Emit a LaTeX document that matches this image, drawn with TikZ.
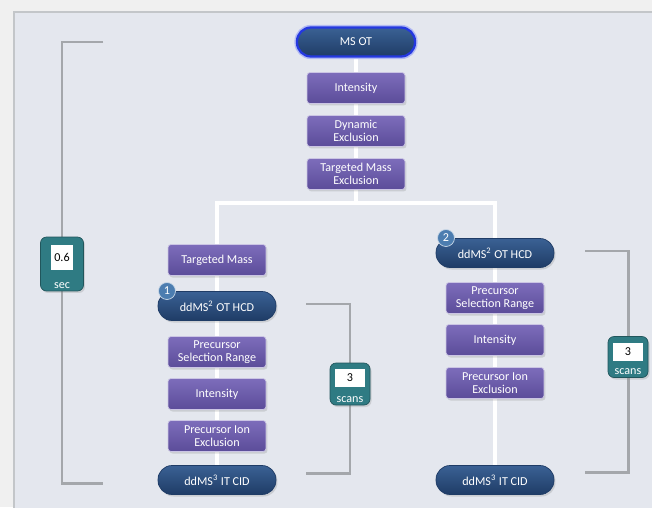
\documentclass[tikz,border=0pt]{standalone}
\usepackage{fontspec}
\setmainfont{Carlito}
\usetikzlibrary{positioning,calc,backgrounds,shadows}
\definecolor{paper}{HTML}{F0F0F0}
\definecolor{panel}{HTML}{E4E7EE}
\definecolor{frame}{HTML}{C3C6C9}
\definecolor{filtop}{HTML}{7D6DBB}
\definecolor{filbot}{HTML}{5B4C99}
\definecolor{scantop}{HTML}{3A6194}
\definecolor{scanbot}{HTML}{1F3C66}
\definecolor{glow}{HTML}{2438E0}
\definecolor{timer}{HTML}{2F7B83}
\definecolor{order}{HTML}{4C7DB0}
\definecolor{brk}{HTML}{A4A7AB}

\begin{document}
\begin{tikzpicture}[x=0.02cm,y=-0.02cm,
  txt/.style={font=\fontsize{6.9}{7.6}\selectfont,text=white,align=center,inner sep=0pt},
  filt/.style={txt,rectangle,rounded corners=0.06cm,top color=filtop,bottom color=filbot,
    draw=white!60!filtop,line width=0.4pt,minimum width=1.96cm,minimum height=0.62cm,
    drop shadow={opacity=0.25,shadow xshift=0.03cm,shadow yshift=-0.04cm}},
  scan/.style={txt,rectangle,rounded corners=0.28cm,top color=scantop,bottom color=scanbot,
    draw=scanbot,line width=0.4pt,minimum width=2.36cm,minimum height=0.58cm,
    drop shadow={opacity=0.25,shadow xshift=0.03cm,shadow yshift=-0.04cm}},
  ordnum/.style={txt,circle,fill=order,draw=white!70!order,line width=0.4pt,minimum size=0.34cm},
  timerbox/.style={rectangle,rounded corners=0.12cm,fill=timer,draw=timer!70!black,line width=0.4pt,
    drop shadow={opacity=0.25,shadow xshift=0.03cm,shadow yshift=-0.04cm}},
  readout/.style={rectangle,fill=white,font=\fontsize{6.9}{7.6}\selectfont,text=black,inner sep=0pt},
  unit/.style={font=\fontsize{6.9}{7.6}\selectfont,text=white,inner sep=0pt},
  spine/.style={white,line width=2.2pt},
  brace/.style={brk,line width=1.7pt}]
\useasboundingbox (0,0) rectangle (652,507);
% top chain
\node[scan,draw=glow,line width=1.3pt,preaction={draw=glow!35,line width=3pt}] (msot) at (356,42) {MS OT};
\node[filt] (int) at (356,88) {Intensity};
\node[filt] (dynex) at (356,131) {Dynamic\\Exclusion};
\node[filt] (tmex) at (356,174) {Targeted Mass\\Exclusion};
\coordinate (split) at (356,203);
% left branch
\node[filt] (tmL) at (217,260) {Targeted Mass};
\node[scan] (hcdL) at (217,306) {ddMS\textsuperscript{2} OT HCD};
\node[ordnum] (oneL) at (167,291) {1};
\node[filt] (pselL) at (217,352) {Precursor\\Selection Range};
\node[filt] (intL) at (217,394) {Intensity};
\node[filt] (pexL) at (217,436) {Precursor Ion\\Exclusion};
\node[scan] (cidL) at (217,480) {ddMS\textsuperscript{3} IT CID};
% right branch
\node[scan] (hcdR) at (495,253) {ddMS\textsuperscript{2} OT HCD};
\node[ordnum] (twoR) at (446,238) {2};
\node[filt] (pselR) at (495,298) {Precursor\\Selection Range};
\node[filt] (intR) at (495,340) {Intensity};
\node[filt] (pexR) at (495,383) {Precursor Ion\\Exclusion};
\node[scan] (cidR) at (495,480) {ddMS\textsuperscript{3} IT CID};
% cycle badges
\node[timerbox,minimum width=0.86cm,minimum height=1.08cm] (cycle) at (62,264) {};
\node[readout,minimum width=0.44cm,minimum height=0.5cm,below=0.16cm of cycle.north] (cycleval) {0.6};
\node[unit,above=0.05cm of cycle.south] (cycleunit) {sec};
\node[timerbox,minimum width=0.8cm,minimum height=0.84cm] (scansL) at (350,384) {};
\node[readout,minimum width=0.6cm,minimum height=0.36cm,below=0.12cm of scansL.north] (scansLval) {3};
\node[unit,above=0.05cm of scansL.south] (scansLunit) {scans};
\node[timerbox,minimum width=0.8cm,minimum height=0.82cm] (scansR) at (628,357) {};
\node[readout,minimum width=0.6cm,minimum height=0.36cm,below=0.12cm of scansR.north] (scansRval) {3};
\node[unit,above=0.05cm of scansR.south] (scansRunit) {scans};
\begin{scope}[on background layer]
\fill[paper] (0,0) rectangle (652,507);
\draw[frame,fill=panel,line width=0.6pt] (14,12) rectangle (662,517);
\draw[spine] (msot) -- (split);
\draw[spine] (cidL) |- (split) -| (cidR);
\draw[brace] (103,42) -| (cycle.north);
\draw[brace] (cycle.south) |- (103,483);
\draw[brace] (306,304) -| (scansL.north);
\draw[brace] (scansL.south) |- (306,473);
\draw[brace] (585,251) -| (scansR.north);
\draw[brace] (scansR.south) |- (585,472);
\end{scope}
\end{tikzpicture}
\end{document}
